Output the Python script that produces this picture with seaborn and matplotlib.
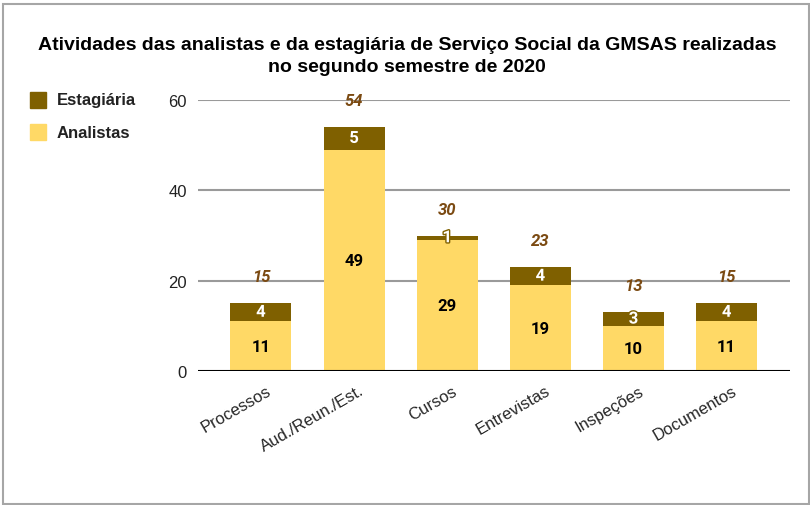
import matplotlib
matplotlib.use("Agg")
import matplotlib.pyplot as plt
import matplotlib.patheffects as pe
import matplotlib.transforms as mtransforms
from matplotlib.patches import Rectangle
import seaborn as sns
import pandas as pd

sns.set_style("white")
plt.rcParams["font.family"] = ["Liberation Sans", "DejaVu Sans"]

# --- data ---
categorias = ["Processos", "Aud./Reun./Est.", "Cursos", "Entrevistas", "Inspeções", "Documentos"]
analistas = [11, 49, 29, 19, 10, 11]
estagiaria = [4, 5, 1, 4, 3, 4]
totais = [a + e for a, e in zip(analistas, estagiaria)]

COR_ANALISTAS = "#FFD966"
COR_ESTAGIARIA = "#7F6000"
COR_TOTAL = "#7B4A12"

df = pd.DataFrame({"categoria": categorias, "analistas": analistas,
                   "estagiaria": estagiaria, "total": totais})

fig = plt.figure(figsize=(8.10, 5.06), dpi=100)
ax = fig.add_axes([198 / 810, 1 - 372 / 506, (790 - 198) / 810, (372 - 101) / 506])

# stacked bars: total in dark first, analistas on top of it
sns.barplot(data=df, x="categoria", y="total", color=COR_ESTAGIARIA,
            width=0.655, saturation=1, linewidth=0, ax=ax, zorder=3)
sns.barplot(data=df, x="categoria", y="analistas", color=COR_ANALISTAS,
            width=0.655, saturation=1, linewidth=0, ax=ax, zorder=3)

ax.set_ylim(0, 60)
ax.set_xlim(-0.675, 5.68)
ax.set_yticks([0, 20, 40, 60])
ax.set_xlabel("")
ax.set_ylabel("")

for y in [20, 40, 60]:
    ax.axhline(y, color="#9a9a9a", linewidth=1.5, zorder=1)
ax.axhline(0, color="black", linewidth=1.5, zorder=4)

for s in ax.spines.values():
    s.set_visible(False)

ax.tick_params(axis="y", length=0, labelsize=12, labelcolor="#222222", pad=8)
ax.tick_params(axis="x", direction="inout", length=7, width=1, color="black",
               labelsize=12, pad=5)
shift = mtransforms.ScaledTranslation(5 / 100, 0, fig.dpi_scale_trans)
for lbl in ax.get_xticklabels():
    lbl.set_rotation(30)
    lbl.set_ha("right")
    lbl.set_rotation_mode("anchor")
    lbl.set_transform(lbl.get_transform() + shift)

# segment labels
for i in range(len(categorias)):
    ax.text(i, analistas[i] / 2, str(analistas[i]), ha="center", va="center",
            fontsize=12, fontweight="bold", color="black", family="Roboto", zorder=5)
    ax.text(i, analistas[i] + estagiaria[i] / 2, str(estagiaria[i]), ha="center",
            va="center", fontsize=12, fontweight="bold", color="white", family="Roboto",
            zorder=5, path_effects=[pe.withStroke(linewidth=2, foreground=COR_ESTAGIARIA)])
    ax.annotate(str(totais[i]), (i, totais[i]), xytext=(0, 19), textcoords="offset points",
                ha="center", va="center", fontsize=12, fontweight="bold", style="italic",
                color=COR_TOTAL, family="Roboto", zorder=5)

# title
fig.text(407 / 810, 1 - 45 / 506,
         "Atividades das analistas e da estagiária de Serviço Social da GMSAS realizadas",
         ha="center", va="center", fontsize=14, fontweight="bold", color="black")
fig.text(407 / 810, 1 - 68 / 506, "no segundo semestre de 2020",
         ha="center", va="center", fontsize=14, fontweight="bold", color="black")

# legend
for y, cor, nome in [(101, COR_ESTAGIARIA, "Estagiária"), (133, COR_ANALISTAS, "Analistas")]:
    fig.patches.append(Rectangle((30 / 810, 1 - (y + 8) / 506), 16 / 810, 16 / 506,
                                 transform=fig.transFigure, color=cor))
    fig.text(57 / 810, 1 - y / 506, nome, ha="left", va="center",
             fontsize=12, fontweight="bold", color="#222222")

# outer border
fig.patches.append(Rectangle((3.5 / 810, 1 - 505 / 506), 805 / 810, 500 / 506,
                             transform=fig.transFigure, fill=False,
                             edgecolor="#a6a6a6", linewidth=1.5))

fig.savefig("out.png", dpi=100)
